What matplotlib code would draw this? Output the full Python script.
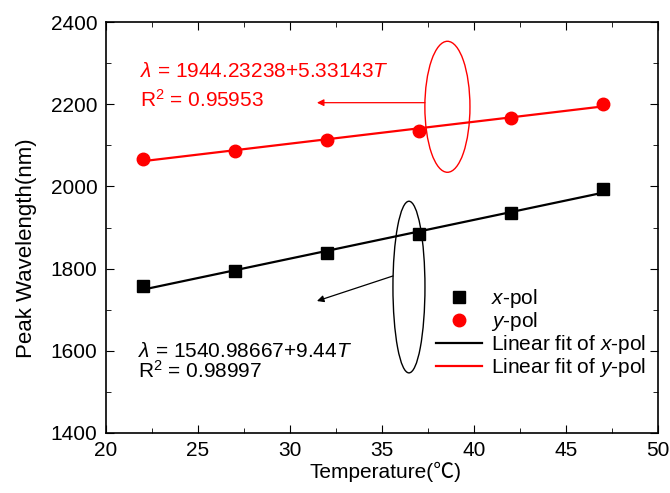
import matplotlib

matplotlib.use("Agg")
import matplotlib.pyplot as plt
from matplotlib.patches import Ellipse
import numpy as np

plt.rcParams["font.family"] = ["Liberation Sans", "Noto Sans CJK SC", "DejaVu Sans"]
plt.rcParams["mathtext.fontset"] = "custom"
plt.rcParams["mathtext.rm"] = "Liberation Sans"
plt.rcParams["mathtext.it"] = "Liberation Sans:italic"

# measured peak wavelengths (nm) vs temperature (C)
temperature = [22, 27, 32, 37, 42, 47]
x_pol = [1757, 1795, 1838, 1884, 1936, 1995]
y_pol = [2066, 2087, 2112, 2136, 2167, 2201]

# linear fit coefficients as printed on the chart
x_fit = (1540.98667, 9.44)
y_fit = (1944.23238, 5.33143)

fig = plt.figure(figsize=(6.7, 4.93), dpi=100)
ax = fig.add_axes([0.158, 0.122, 0.824, 0.833])

t = np.array(temperature, dtype=float)
ax.plot(t, x_pol, "s", color="black", markersize=8.5, label="$\\it{x}$-pol", zorder=5)
ax.plot(t, y_pol, "o", color="red", markersize=9, label="$\\it{y}$-pol", zorder=5)
ax.plot(t, x_fit[0] + x_fit[1] * t, "-", color="black", linewidth=1.6,
        label="Linear fit of $\\it{x}$-pol")
ax.plot(t, y_fit[0] + y_fit[1] * t, "-", color="red", linewidth=1.6,
        label="Linear fit of $\\it{y}$-pol")

# ellipses marking each group + arrows to the fit text
ax.add_patch(Ellipse((38.56, 2194), 2.45, 319, fill=False, edgecolor="red", linewidth=1.0))
ax.add_patch(Ellipse((36.47, 1755), 1.74, 418, fill=False, edgecolor="black", linewidth=1.0))
ax.annotate("", xy=(31.47, 2204), xytext=(37.34, 2204),
            arrowprops=dict(arrowstyle="-|>", color="red", linewidth=0.9,
                            mutation_scale=10, shrinkA=0, shrinkB=0))
ax.annotate("", xy=(31.47, 1721), xytext=(35.6, 1782),
            arrowprops=dict(arrowstyle="-|>", color="black", linewidth=0.9,
                            mutation_scale=10, shrinkA=0, shrinkB=0))

ax.text(21.85, 2266, "$\\lambda$ = 1944.23238+5.33143$T$", color="red", fontsize=15)
ax.text(21.85, 2193, "R$^2$ = 0.95953", color="red", fontsize=15)
ax.text(21.75, 1585, "$\\lambda$ = 1540.98667+9.44$T$", color="black", fontsize=15)
ax.text(21.75, 1534, "R$^2$ = 0.98997", color="black", fontsize=15)

ax.set_xlim(20, 50)
ax.set_ylim(1400, 2400)
ax.set_xticks(np.arange(20, 51, 5))
ax.set_xticks(np.arange(22.5, 50, 5), minor=True)
ax.set_yticks(np.arange(1400, 2401, 200))
ax.set_yticks(np.arange(1500, 2400, 200), minor=True)
ax.tick_params(which="both", direction="in", top=True, right=True, labelsize=15, pad=6)
ax.tick_params(which="major", length=6)
ax.tick_params(which="minor", length=3.5)
for s in ax.spines.values():
    s.set_linewidth(1.2)

ax.set_xlabel("Temperature(\u2103)", fontsize=15)
ax.xaxis.set_label_coords(0.507, -0.07)
ax.set_ylabel("Peak Wavelength(nm)", fontsize=16)
ax.yaxis.set_label_coords(-0.125, 0.45)

ax.legend(loc="lower right", bbox_to_anchor=(1.0, 0.1), frameon=False, fontsize=15,
          handlelength=2.2, handletextpad=0.4, labelspacing=0.0, borderaxespad=0.2)

fig.savefig("out.png", dpi=100)
